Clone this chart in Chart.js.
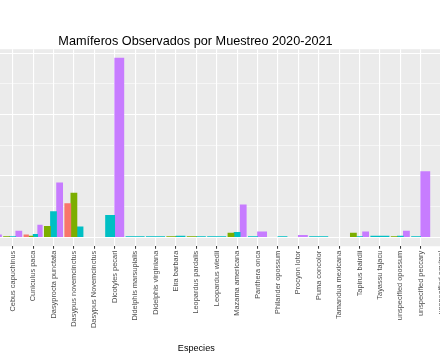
<!DOCTYPE html>
<html><head><meta charset="utf-8">
<script src="https://cdn.jsdelivr.net/npm/chart.js@4"></script>
<style>
html,body{margin:0;padding:0;background:#fff;}
#wrap{position:relative;width:440px;height:355px;overflow:hidden;background:#fff;}
#c{position:absolute;left:-120px;top:0;}
</style></head><body>
<div id="wrap"><canvas id="c" width="631" height="355" style="width:631px;height:355px"></canvas></div>
<script>
const N = null;
const categories = ['Alouatta palliata','Ateles geoffroyi','Canis latrans','Cebus capuchinus','Cuniculus paca','Dasyprocta punctata','Dasypus novemcinctus','Dasypus Novemcinctus','Dicotyles pecari','Didelphis marsupialis','Didelphis virginiana','Eira barbara','Leopardus pardalis','Leopardus wiedii','Mazama americana','Panthera onca','Philander opossum','Procyon lotor','Puma concolor','Tamandua mexicana','Tapirus bairdii','Tayassu tajacu','unspecified opossum','unspecified peccary','unspecified squirrel'];
const seriesNames = ['Muestreo 1','Muestreo 2','Muestreo 3','Muestreo 4'];
const muestreo1 = [N,N,N,N,4,N,55,N,N,N,N,N,N,N,N,N,0,N,N,N,N,N,N,N,N];
const muestreo2 = [N,N,N,1,2,18,72,N,N,N,N,1,1,N,7,N,N,N,N,N,7,N,1,N,N];
const muestreo3 = [1,1,1,1,5,42,17,0,36,1,1,2,1,1,8,1,1,0,1,0,1,2,2,1,0];
const muestreo4 = [N,N,4,10,20,89,N,N,292,N,N,N,N,N,53,9,N,3,N,N,9,N,10,107,N];
const seriesColors = ['#F8766D','#7CAE00','#00BFC4','#C77CFF'];
const yGridTicks = [0,50,100,150,200,250,300];
const yMajorTicks = [0,100,200,300];

const FONT = "'Liberation Sans', Arial, sans-serif";
const panelBg = {
  id:'panelBg',
  beforeDraw(chart){
    const {ctx, chartArea:a} = chart;
    ctx.save(); ctx.fillStyle = '#EBEBEB';
    ctx.fillRect(a.left, a.top, a.right-a.left, a.bottom-a.top);
    ctx.restore();
  }
};
const seriesData = [muestreo1, muestreo2, muestreo3, muestreo4];
new Chart(document.getElementById('c'), {
  type:'bar',
  data:{
    labels: categories,
    datasets: seriesNames.map((n,i)=>({
      label:n, data:seriesData[i], backgroundColor:seriesColors[i],
      borderWidth:0, categoryPercentage:0.9, barPercentage:1.0, skipNull:true,
      inflateAmount: c => (c.raw === 0 ? 0 : 0.33)
    }))
  },
  options:{
    responsive:false, animation:false, devicePixelRatio:1,
    layout:{padding:0},
    plugins:{
      title:{display:true, text:'Mamíferos Observados por Muestreo 2020-2021', color:'#000',
        font:{family:FONT, size:12.7, weight:'normal'}, padding:{top:34,bottom:0}},
      legend:{display:true, position:'right', maxWidth:59.7,
        title:{display:true, text:'Muestreo', font:{family:FONT, size:9}},
        labels:{font:{family:FONT, size:8}, boxWidth:10}},
      tooltip:{enabled:false}
    },
    scales:{
      x:{
        offset:true,
        grid:{offset:false, color:'#ffffff', lineWidth:1.1, drawTicks:true, tickLength:2.5, tickColor:'#333333', tickWidth:1},
        border:{display:false},
        ticks:{autoSkip:false, minRotation:90, maxRotation:90, padding:2, color:'#4d4d4d', font:{family:FONT, size:7.4}},
        title:{display:true, text:'Especies', color:'#000', font:{family:FONT, size:9.1}, padding:{top:0,bottom:1}},
        afterFit: s => { s.height = 108.75; }
      },
      y:{
        min:-14.6, max:306.6,
        afterBuildTicks: s => { s.ticks = yGridTicks.map(v=>({value:v})); },
        ticks:{callback: v => yMajorTicks.includes(v) ? String(v) : '', color:'#4d4d4d', padding:2, font:{family:FONT, size:7.4}},
        grid:{color:'#ffffff', lineWidth: c => (c.tick && yMajorTicks.includes(c.tick.value)) ? 1.1 : 0.55, tickLength:2.5, tickColor:'#333333'},
        border:{display:false},
        afterFit: s => { s.width = 61.3; }
      }
    }
  },
  plugins:[panelBg]
});
</script>
</body></html>
